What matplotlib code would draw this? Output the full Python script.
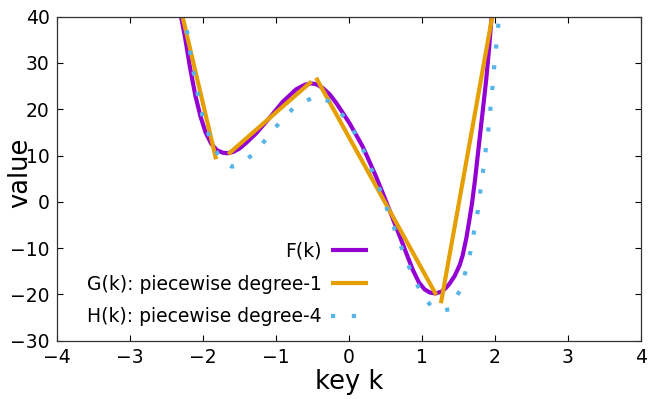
import numpy as np
import matplotlib
matplotlib.use("Agg")
import matplotlib.pyplot as plt

# F(k): smooth curve
f_k = [-2.32, -2.30, -2.24, -2.17, -2.10, -2.03, -1.96, -1.88, -1.80, -1.72,
       -1.66, -1.58, -1.497, -1.40, -1.268, -1.086, -0.904, -0.721, -0.60,
       -0.515, -0.44, -0.356, -0.26, -0.173, -0.08, 0.01, 0.10, 0.192, 0.28,
       0.375, 0.47, 0.558, 0.64, 0.717, 0.80, 0.877, 0.96, 1.037, 1.11, 1.188,
       1.27, 1.33, 1.379, 1.45, 1.52, 1.56, 1.61, 1.65, 1.69, 1.73, 1.79,
       1.84, 1.882, 1.92, 1.95, 1.965]
f_v = [42.0, 40.4, 35.5, 28.8, 23.0, 18.5, 15.0, 12.5, 11.1, 10.6,
       10.5, 10.8, 11.5, 12.8, 14.8, 18.1, 21.6, 24.3, 25.3,
       25.6, 25.4, 24.6, 23.2, 21.4, 19.2, 17.0, 14.5, 11.9, 8.8,
       5.4, 1.7, -1.8, -5.1, -8.2, -11.6, -14.7, -17.4, -18.9, -19.6, -19.8,
       -19.4, -18.6, -17.7, -16.0, -13.6, -11.5, -7.8, -4.0, 0.0, 5.0, 13.5,
       20.5, 26.5, 33.0, 39.0, 41.5]

# G(k): piecewise degree-1, segments separated by NaN
g_k = [-2.30, -1.816, np.nan, -1.65, -0.51, np.nan, -0.447, 1.197, np.nan, 1.262, 1.964]
g_v = [41.7, 9.2, np.nan, 10.3, 26.0, np.nan, 26.8, -20.1, np.nan, -21.9, 40.0]

# H(k): piecewise degree-4
h_k = [-2.27, -2.241, -2.196, -2.155, -2.104, -2.05, -1.986, -1.885, -1.758,
       -1.60, -1.511, -1.288, -1.11, -0.926, -0.730, -0.479, -0.40, -0.223,
       -0.032, 0.115, 0.238, 0.343, 0.452, 0.548, 0.649, 0.749, 0.855, 0.978,
       1.137, 1.26, 1.379, 1.516, 1.598, 1.667, 1.717, 1.767, 1.804, 1.841,
       1.877, 1.914, 1.941, 1.968, 1.992, 2.019, 2.047, 2.06]
h_v = [41.5, 39.5, 35.1, 30.7, 26.3, 21.9, 17.5, 13.2, 9.3,
       7.6, 7.9, 10.5, 14.0, 17.5, 20.7, 22.6, 22.9, 21.2,
       17.8, 14.0, 9.9, 5.8, 1.6, -2.6, -6.8, -11.0, -15.2, -19.2,
       -22.8, -23.6, -23.2, -19.3, -15.1, -10.7, -6.2, -1.9, 2.6, 7.0,
       11.5, 16.0, 20.4, 24.9, 29.4, 33.8, 38.3, 40.5]

x_ticks = [-4, -3, -2, -1, 0, 1, 2, 3, 4]
y_ticks = [-30, -20, -10, 0, 10, 20, 30, 40]

W, H = 664, 399
fig = plt.figure(figsize=(W / 100, H / 100), dpi=100)
ax = fig.add_axes([56.5 / W, 1 - 340.7 / H, (641 - 56.5) / W, (340.7 - 16.7) / H])

ax.plot(f_k, f_v, color="#9400D3", lw=3.0, label="F(k)", solid_capstyle="butt")
ax.plot(g_k, g_v, color="#E69F00", lw=3.0, label="G(k): piecewise degree-1",
        solid_capstyle="butt")
ax.plot(h_k, h_v, color="#56B4E9", lw=3.0, linestyle=(0, (1, 4)),
        dash_capstyle="butt", label="H(k): piecewise degree-4")

ax.set_xlim(-4, 4)
ax.set_ylim(-30, 40)
ax.set_xticks(x_ticks)
ax.set_yticks(y_ticks)
ax.tick_params(direction="in", top=True, right=True, length=4, width=0.8,
               labelsize=13.5, pad=5, colors="black")
for s in ax.spines.values():
    s.set_linewidth(0.9)
    s.set_color("#333333")

ax.set_xlabel("key k", fontsize=18.5, labelpad=2)
ax.set_ylabel("value", fontsize=18.5)
# gnuplot puts the y label between the tick labels, not left of them
ax.yaxis.set_label_coords((33 - 56.5) / (641 - 56.5), (340.7 - 173) / (340.7 - 16.7))

leg = ax.legend(loc="center right", bbox_to_anchor=(368 / W, 1 - 284 / H),
                bbox_transform=fig.transFigure, frameon=False, markerfirst=False,
                fontsize=13.5, handlelength=1.95, handletextpad=0.5,
                labelspacing=0.74, borderpad=0, borderaxespad=0)

fig.savefig("out.png", dpi=100)
